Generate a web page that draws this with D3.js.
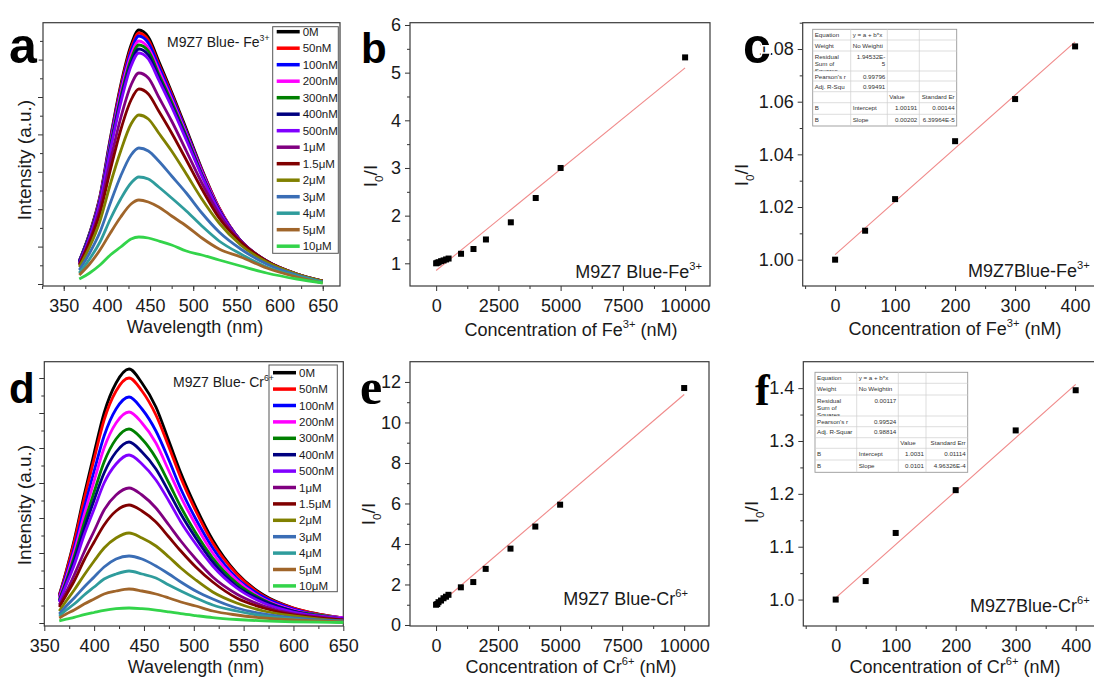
<!DOCTYPE html>
<html>
<head>
<meta charset="utf-8">
<script src="https://cdn.jsdelivr.net/npm/d3@7"></script>
<style>
  body { margin: 0; background: #fff; }
  text { font-family: "Liberation Sans", Arial, Helvetica, sans-serif; fill: #1a1a1a; }
</style>
</head>
<body>
<svg id="fig" width="1094" height="681"></svg>
<script>
// ---- data ----
var concLabels = ["0M", "50nM", "100nM", "200nM", "300nM", "400nM", "500nM", "1μM", "1.5μM", "2μM", "3μM", "4μM", "5μM", "10μM"];
var seriesColors = ["#000000", "#ff0000", "#0000ff", "#ff00ff", "#008000", "#000080", "#8000ff", "#800080", "#800000", "#808000", "#3a6db5", "#2f9c9c", "#a0652a", "#33d44a"];

// panel a : Fe3+ emission spectra (arbitrary units)
var wlFe = [368, 380, 392, 404, 416, 428, 437, 448, 460, 475, 492, 510, 530, 555, 585, 620, 650];
var fe0    = [24, 52, 89, 147, 200, 240, 255, 248, 224, 193, 156, 116, 77, 44, 23, 10, 4];
var fe50   = [24, 51, 88, 145, 198, 237, 252, 245, 221, 191, 154, 115, 77, 44, 23, 10, 4];
var fe100  = [24, 51, 87, 144, 195, 234, 249, 242, 219, 189, 153, 114, 76, 44, 23, 10, 4];
var fe200  = [23, 50, 86, 141, 192, 230, 244, 237, 215, 186, 151, 113, 76, 44, 23, 10, 4];
var fe300  = [23, 50, 85, 139, 188, 226, 240, 234, 211, 183, 149, 111, 75, 44, 24, 10, 4];
var fe400  = [23, 49, 84, 137, 185, 222, 236, 230, 208, 180, 147, 110, 75, 44, 24, 11, 4];
var fe500  = [22, 48, 83, 135, 182, 219, 232, 226, 205, 178, 145, 109, 74, 44, 24, 11, 4];
var fe1u   = [21, 45, 77, 124, 167, 200, 212, 207, 188, 164, 134, 102, 71, 44, 24, 11, 4];
var fe1_5u = [20, 43, 72, 115, 155, 185, 196, 191, 174, 152, 125, 96, 67, 43, 24, 11, 4];
var fe2u   = [18, 38, 64, 101, 134, 161, 170, 166, 152, 134, 111, 86, 62, 40, 23, 11, 4];
var fe3u   = [15, 32, 53, 82, 109, 130, 137, 134, 124, 109, 92, 72, 53, 36, 21, 10, 3];
var fe4u   = [12, 26, 43, 66, 86, 102, 108, 106, 98, 87, 74, 59, 44, 31, 18, 9, 3];
var fe5u   = [10, 21, 35, 52, 68, 81, 85, 83, 78, 69, 59, 47, 36, 28, 17, 8, 2];
var fe10u  = [6, 12, 20, 30, 38, 46, 48, 47, 44, 40, 34, 30, 25, 19, 12, 6, 2];
var feSpectra = [fe0, fe50, fe100, fe200, fe300, fe400, fe500, fe1u, fe1_5u, fe2u, fe3u, fe4u, fe5u, fe10u];

// panel d : Cr6+ emission spectra (arbitrary units)
var wlCr = [365, 372, 380, 390, 400, 410, 422, 435, 448, 462, 475, 487, 502, 519, 543, 570, 600, 625, 650];
var cr0    = [28, 52, 83, 128, 170, 210, 240, 254, 240, 216, 182, 150, 116, 83, 50, 28, 15, 9, 5];
var cr50   = [27, 51, 81, 124, 164, 203, 232, 245, 232, 208, 176, 145, 112, 80, 49, 27, 15, 9, 5];
var cr100  = [26, 48, 75, 115, 152, 187, 214, 226, 214, 192, 163, 134, 104, 75, 45, 26, 14, 8, 5];
var cr200  = [25, 45, 71, 108, 142, 175, 200, 211, 200, 180, 152, 126, 98, 70, 43, 24, 13, 8, 5];
var cr300  = [23, 42, 66, 100, 131, 161, 184, 194, 184, 165, 140, 116, 90, 65, 40, 23, 12, 8, 4];
var cr400  = [22, 40, 62, 94, 123, 150, 171, 181, 171, 154, 131, 109, 85, 61, 37, 22, 12, 7, 4];
var cr500  = [21, 38, 58, 88, 114, 140, 159, 168, 159, 143, 122, 101, 79, 57, 35, 20, 11, 7, 4];
var cr1u   = [18, 31, 48, 71, 92, 113, 128, 135, 128, 115, 98, 82, 64, 46, 29, 17, 9, 6, 3];
var cr1_5u = [16, 28, 42, 63, 81, 98, 112, 118, 112, 101, 86, 72, 56, 41, 25, 15, 8, 5, 3];
var cr2u   = [12, 22, 33, 48, 62, 75, 85, 90, 85, 77, 66, 55, 43, 31, 20, 12, 7, 4, 2];
var cr3u   = [9, 17, 25, 36, 46, 56, 64, 67, 64, 57, 49, 41, 32, 24, 15, 9, 5, 3, 2];
var cr4u   = [7, 13, 19, 28, 36, 44, 49, 52, 49, 45, 38, 32, 25, 18, 12, 7, 4, 2, 1];
var cr5u   = [5, 9, 13, 19, 24, 29, 32, 34, 32, 29, 25, 21, 17, 12, 8, 5, 3, 2, 1];
var cr10u  = [2.2, 3.9, 5.7, 8.3, 10.5, 12.6, 14.3, 15, 14.3, 12.9, 11.1, 9.3, 7.4, 5.4, 3.5, 2.1, 1.2, 0.8, 0.5];
var crSpectra = [cr0, cr50, cr100, cr200, cr300, cr400, cr500, cr1u, cr1_5u, cr2u, cr3u, cr4u, cr5u, cr10u];

// panels b, c, e, f : quenching ratio I0/I vs concentration (nM)
var concNM  = [0, 50, 100, 200, 300, 400, 500, 1000, 1500, 2000, 3000, 4000, 5000, 10000];
var feRatio = [1.000, 1.011, 1.023, 1.045, 1.061, 1.081, 1.10, 1.20, 1.30, 1.50, 1.86, 2.37, 3.00, 5.32];
var crRatio = [1.000, 1.035, 1.126, 1.207, 1.320, 1.396, 1.49, 1.86, 2.12, 2.77, 3.77, 4.86, 5.94, 11.70];
var lowConcCount = 6; // points 0..400 nM used in panels c and f

// linear fits [intercept, slope per nM]
var feFitWide = [0.85, 0.000425];
var crFitWide = [0.90, 0.001048];
var feFitLow  = [1.00191, 0.000202];
var crFitLow  = [1.0031, 0.00101];

// fit tables (Origin style)
var feTable = [
  ["Equation", "y = a + b*x", "", ""],
  ["Weight", "No Weighti", "", ""],
  [["Residual", "Sum of", "Squares"], ["1.94532E-", "5"], "", ""],
  ["Pearson's r", "0.99796", "", ""],
  ["Adj. R-Squ", "0.99491", "", ""],
  ["", "", "Value", "Standard Er"],
  ["B", "Intercept", "1.00191", "0.00144"],
  ["B", "Slope", "0.00202", "6.39964E-5"]
];
var crTable = [
  ["Equation", "y = a + b*x", "", ""],
  ["Weight", "No Weightin", "", ""],
  [["Residual", "Sum of", "Squares"], "0.00117", "", ""],
  ["Pearson's r", "0.99524", "", ""],
  ["Adj. R-Squar", "0.98814", "", ""],
  ["", "", "Value", "Standard Err"],
  ["B", "Intercept", "1.0031", "0.01114"],
  ["B", "Slope", "0.0101", "4.96326E-4"]
];

// ---- drawing ----
var FONT = '"Liberation Sans", Arial, Helvetica, sans-serif';
var svg = d3.select("#fig");
svg.append("rect").attr("width", 1094).attr("height", 681).attr("fill", "#fff");

// text with super/subscripts, parts = [[string, 0|1|-1], ...]
function richText(sel, parts, fs) {
  var cur = 0;
  parts.forEach(function(p) {
    var target = p[1] === 1 ? -0.42 * fs : (p[1] === -1 ? 0.3 * fs : 0);
    var ts = sel.append("tspan").attr("dy", target - cur).text(p[0]);
    if (p[1]) ts.style("font-size", (0.62 * fs) + "px");
    cur = target;
  });
  return sel;
}

function styleAxis(s) {
  s.select(".domain").remove();
  s.selectAll("line").attr("stroke", "#333");
  s.selectAll("text").attr("font-size", 18).attr("font-family", FONT).attr("fill", "#1a1a1a");
}

// axes with outward major/minor ticks and a closed frame
function axesBox(g, xs, ys, o) {
  var left = xs.range()[0], right = xs.range()[1];
  var bottom = ys.range()[0], top = ys.range()[1];
  g.append("g").attr("transform", "translate(0," + bottom + ")")
    .call(d3.axisBottom(xs).tickValues(o.xMinor).tickSize(3).tickFormat("")).call(styleAxis);
  g.append("g").attr("transform", "translate(0," + bottom + ")")
    .call(d3.axisBottom(xs).tickValues(o.xMajor).tickSize(5).tickPadding(8).tickFormat(o.xFmt)).call(styleAxis);
  g.append("g").attr("transform", "translate(" + left + ",0)")
    .call(d3.axisLeft(ys).tickValues(o.yMinor).tickSize(3).tickFormat("")).call(styleAxis);
  g.append("g").attr("transform", "translate(" + left + ",0)")
    .call(d3.axisLeft(ys).tickValues(o.yMajor).tickSize(5).tickPadding(4).tickFormat(o.yFmt)).call(styleAxis);
  g.append("rect")
    .attr("x", left).attr("y", top)
    .attr("width", right - left).attr("height", bottom - top)
    .attr("fill", "none").attr("stroke", "#3a3a3a").attr("stroke-width", 1.2);
}

function xTitle(g, x, y, parts) {
  richText(g.append("text").attr("x", x).attr("y", y).attr("text-anchor", "middle").attr("font-size", 18), parts, 18);
}
function yTitle(g, x, y, parts) {
  richText(g.append("text").attr("transform", "translate(" + x + "," + y + ") rotate(-90)")
    .attr("text-anchor", "middle").attr("font-size", 19), parts, 19);
}
function panelLetter(x, y, ch, size, serif) {
  svg.append("text").attr("x", x).attr("y", y)
    .attr("font-size", size).attr("font-weight", "bold")
    .style("font-family", serif ? '"Liberation Serif", "Times New Roman", serif' : FONT)
    .style("fill", "#000")
    .attr("stroke", "#fff").attr("stroke-width", 3).attr("paint-order", "stroke")
    .text(ch);
}

function legend(g, x, y, w, h, first, step) {
  g.append("rect").attr("x", x).attr("y", y).attr("width", w).attr("height", h)
    .attr("fill", "#fff").attr("stroke", "#555").attr("stroke-width", 1);
  concLabels.forEach(function(lab, i) {
    var cy = y + first + i * step;
    g.append("line").attr("x1", x + 4).attr("x2", x + 27).attr("y1", cy).attr("y2", cy)
      .attr("stroke", seriesColors[i]).attr("stroke-width", 3.5);
    g.append("text").attr("x", x + 30).attr("y", cy).attr("dy", "0.36em")
      .attr("font-size", 11.5).text(lab);
  });
}

function spectraPanel(wl, spectra, xs, ys, ticks, legendBox, titleParts, titlePos) {
  var g = svg.append("g");
  axesBox(g, xs, ys, ticks);
  var line = d3.line()
    .x(function(d) { return xs(d[0]); })
    .y(function(d) { return ys(d[1]); })
    .curve(d3.curveMonotoneX);
  spectra.forEach(function(s, i) {
    g.append("path")
      .datum(wl.map(function(w, j) { return [w, s[j]]; }))
      .attr("d", line).attr("fill", "none")
      .attr("stroke", seriesColors[i]).attr("stroke-width", 2.8)
      .attr("stroke-linejoin", "round");
  });
  legend(g, legendBox[0], legendBox[1], legendBox[2], legendBox[3], legendBox[4], legendBox[5]);
  richText(g.append("text").attr("x", titlePos[0]).attr("y", titlePos[1]).attr("font-size", 14), titleParts, 14);
  return g;
}

function ratioPanel(conc, ratio, fit, fitRange, xs, ys, ticks, labelParts, labelPos, labelAnchor) {
  var g = svg.append("g");
  axesBox(g, xs, ys, ticks);
  g.append("line")
    .attr("x1", xs(fitRange[0])).attr("y1", ys(fit[0] + fit[1] * fitRange[0]))
    .attr("x2", xs(fitRange[1])).attr("y2", ys(fit[0] + fit[1] * fitRange[1]))
    .attr("stroke", "#f08a8a").attr("stroke-width", 1.1);
  g.selectAll("rect.pt").data(conc.map(function(c, i) { return [c, ratio[i]]; }))
    .enter().append("rect").attr("class", "pt")
    .attr("x", function(d) { return xs(d[0]) - 3; })
    .attr("y", function(d) { return ys(d[1]) - 3; })
    .attr("width", 6).attr("height", 6).attr("fill", "#000");
  richText(g.append("text").attr("x", labelPos[0]).attr("y", labelPos[1])
    .attr("text-anchor", labelAnchor).attr("font-size", 18), labelParts, 18);
  return g;
}

function fitTable(g, cols, rows, cells) {
  var tg = g.append("g");
  tg.append("rect").attr("x", cols[0]).attr("y", rows[0])
    .attr("width", cols[cols.length - 1] - cols[0]).attr("height", rows[rows.length - 1] - rows[0])
    .attr("fill", "#fff").attr("stroke", "#999").attr("stroke-width", 0.9);
  rows.slice(1, -1).forEach(function(r) {
    tg.append("line").attr("x1", cols[0]).attr("x2", cols[cols.length - 1]).attr("y1", r).attr("y2", r)
      .attr("stroke", "#cfcfcf").attr("stroke-width", 0.7);
  });
  cols.slice(1, -1).forEach(function(c) {
    tg.append("line").attr("x1", c).attr("x2", c).attr("y1", rows[0]).attr("y2", rows[rows.length - 1])
      .attr("stroke", "#cfcfcf").attr("stroke-width", 0.7);
  });
  cells.forEach(function(row, r) {
    row.forEach(function(cell, c) {
      if (!cell) return;
      var lines = Array.isArray(cell) ? cell : [cell];
      var numeric = /^[0-9]/.test(lines[0]);
      var rightAlign = numeric || (c === 3);
      var cellClip = "cc" + Math.round(cols[0]) + "_" + r + "_" + c;
      tg.append("clipPath").attr("id", cellClip).append("rect")
        .attr("x", cols[c]).attr("y", rows[r]).attr("width", cols[c + 1] - cols[c]).attr("height", rows[r + 1] - rows[r]);
      lines.forEach(function(t, k) {
        tg.append("text")
          .attr("clip-path", "url(#" + cellClip + ")")
          .attr("x", rightAlign ? cols[c + 1] - 2 : cols[c] + 2)
          .attr("y", rows[r] + 7.6 + k * 7)
          .attr("text-anchor", rightAlign ? "end" : "start")
          .attr("font-size", 6.2).style("fill", "#333")
          .text(t);
      });
    });
  });
}

var fmtNone = function() { return ""; };

// ---- panel a ----
var xA = d3.scaleLinear().domain([326, 670]).range([43, 340]);
var yA = d3.scaleLinear().domain([-1, 262.3]).range([286, 22.7]);
var gA = spectraPanel(wlFe, feSpectra, xA, yA, {
  xMajor: d3.range(350, 651, 50), xMinor: d3.range(325, 670, 25), xFmt: d3.format("d"),
  yMajor: d3.range(1, 262, 37.4), yMinor: d3.range(19.7, 262, 37.4), yFmt: fmtNone
}, [272.7, 26.7, 65.6, 226.6, 5, 16.5], [["M9Z7 Blue- Fe", 0], ["3+", 1]], [167, 47]);
xTitle(gA, 195, 333, [["Wavelength (nm)", 0]]);
yTitle(gA, 31, 160, [["Intensity (a.u.)", 0]]);

// ---- panel b ----
var xB = d3.scaleLinear().domain([-1050, 11000]).range([410, 710]);
var yB = d3.scaleLinear().domain([0.524, 6.048]).range([286, 22.7]);
var gB = ratioPanel(concNM, feRatio, feFitWide, [0, 10000], xB, yB, {
  xMajor: d3.range(0, 10001, 2500), xMinor: d3.range(1250, 10000, 2500), xFmt: d3.format("d"),
  yMajor: d3.range(1, 6.01, 1), yMinor: d3.range(1.5, 6, 1), yFmt: d3.format("d")
}, [["M9Z7 Blue-Fe", 0], ["3+", 1]], [702, 278], "end");
xTitle(gB, 571, 336, [["Concentration of Fe", 0], ["3+", 1], [" (nM)", 0]]);
yTitle(gB, 377, 176, [["I", 0], ["0", -1], ["/I", 0]]);

// ---- panel c ----
var xC = d3.scaleLinear().domain([-54, 450]).range([802.7, 1105.1]);
var yC = d3.scaleLinear().domain([0.99, 1.09]).range([286, 22.7]);
var gC = ratioPanel(concNM.slice(0, lowConcCount), feRatio.slice(0, lowConcCount), feFitLow, [0, 400], xC, yC, {
  xMajor: d3.range(0, 401, 100), xMinor: d3.range(-50, 450, 100), xFmt: d3.format("d"),
  yMajor: d3.range(1.00, 1.081, 0.02), yMinor: d3.range(1.01, 1.09, 0.02), yFmt: d3.format(".2f")
}, [["M9Z7Blue-Fe", 0], ["3+", 1]], [968, 277], "start");
xTitle(gC, 955, 335, [["Concentration of Fe", 0], ["3+", 1], [" (nM)", 0]]);
yTitle(gC, 748, 175, [["I", 0], ["0", -1], ["/I", 0]]);
fitTable(gC, [812.7, 850.7, 887.3, 919.3, 956.7], [29.3, 40, 51, 71, 81, 91.7, 102.7, 114.3, 126], feTable);

// ---- panel d ----
var xD = d3.scaleLinear().domain([350, 650]).range([44.3, 343.3]);
var yD = d3.scaleLinear().domain([-3, 261.3]).range([626, 361.7]);
var gD = spectraPanel(wlCr, crSpectra, xD, yD, {
  xMajor: d3.range(350, 651, 50), xMinor: d3.range(375, 650, 50), xFmt: d3.format("d"),
  yMajor: d3.range(0, 250, 35), yMinor: d3.range(17.5, 260, 35), yFmt: fmtNone
}, [269, 365, 68.3, 226.7, 7.7, 16.4], [["M9Z7 Blue- Cr", 0], ["6+", 1]], [173, 387]);
xTitle(gD, 196, 673, [["Wavelength (nm)", 0]]);
yTitle(gD, 31, 505, [["Intensity (a.u.)", 0]]);

// ---- panel e ----
var xE = d3.scaleLinear().domain([-1050, 11000]).range([410, 709]);
var yE = d3.scaleLinear().domain([-0.05, 13.0]).range([626, 361.7]);
var gE = ratioPanel(concNM, crRatio, crFitWide, [0, 10000], xE, yE, {
  xMajor: d3.range(0, 10001, 2500), xMinor: d3.range(1250, 10000, 2500), xFmt: d3.format("d"),
  yMajor: d3.range(0, 12.01, 2), yMinor: d3.range(1, 13, 2), yFmt: d3.format("d")
}, [["M9Z7 Blue-Cr", 0], ["6+", 1]], [688, 605], "end");
xTitle(gE, 571, 673, [["Concentration of Cr", 0], ["6+", 1], [" (nM)", 0]]);
yTitle(gE, 375, 514, [["I", 0], ["0", -1], ["/I", 0]]);

// ---- panel f ----
var xF = d3.scaleLinear().domain([-54, 450]).range([803.3, 1105.7]);
var yF = d3.scaleLinear().domain([0.95, 1.45]).range([626, 361.7]);
var gF = ratioPanel(concNM.slice(0, lowConcCount), crRatio.slice(0, lowConcCount), crFitLow, [0, 400], xF, yF, {
  xMajor: d3.range(0, 401, 100), xMinor: d3.range(-50, 450, 100), xFmt: d3.format("d"),
  yMajor: d3.range(1.0, 1.401, 0.1), yMinor: d3.range(1.05, 1.4, 0.1), yFmt: d3.format(".1f")
}, [["M9Z7Blue-Cr", 0], ["6+", 1]], [970, 612], "start");
xTitle(gF, 955, 673, [["Concentration of Cr", 0], ["6+", 1], [" (nM)", 0]]);
yTitle(gF, 758, 512, [["I", 0], ["0", -1], ["/I", 0]]);
fitTable(gF, [815, 856.7, 898.3, 926, 967.7], [372.3, 383.3, 395, 416, 426.7, 437.7, 448.3, 460, 472.3], crTable);

// ---- panel letters ----
panelLetter(9, 63, "a", 50, false);
panelLetter(361, 63, "b", 42, false);
panelLetter(743, 63, "c", 50, false);
panelLetter(9, 403, "d", 42, false);
panelLetter(360, 404, "e", 50, true);
panelLetter(755, 405, "f", 44, true);
</script>
</body>
</html>
